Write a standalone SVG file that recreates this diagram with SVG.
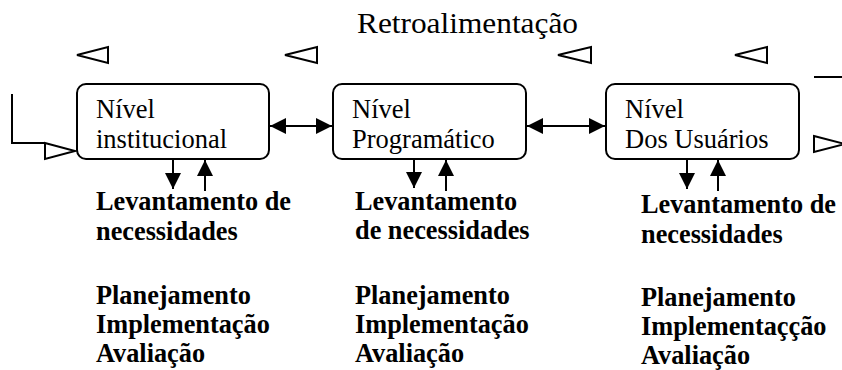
<svg xmlns="http://www.w3.org/2000/svg" width="842" height="370" viewBox="0 0 842 370">
<style>
.box{fill:#fff;stroke:#000;stroke-width:2}
.lbl{font-family:"Liberation Serif","Times New Roman",serif;font-size:26.5px;fill:#000}
.bold{font-family:"Liberation Serif","Times New Roman",serif;font-size:26.3px;font-weight:bold;fill:#000}
.title{font-family:"Liberation Serif","Times New Roman",serif;font-size:29px;fill:#000}
.ln{fill:none;stroke:#000;stroke-width:2}
.tri{fill:#fff;stroke:#000;stroke-width:2;stroke-linejoin:miter}
</style>
<defs>
<marker id="ah" markerUnits="userSpaceOnUse" markerWidth="16" markerHeight="16" viewBox="0 0 15 15" refX="15" refY="7.5" orient="auto-start-reverse">
<path d="M0,0 L15,7.5 L0,15 z" fill="#000"/>
</marker>
</defs>
<text class="title" x="357" y="33" textLength="221" lengthAdjust="spacingAndGlyphs">Retroalimentação</text>
<g id="feedback">
<polygon class="tri" points="77,55 108,47 108,63"/>
<polygon class="tri" points="285,55 317,47 317,63"/>
<polygon class="tri" points="558,55 591,47 591,63"/>
<polygon class="tri" points="735,55 767,47 767,63"/>
<polyline class="ln" points="12,94 12,143 45,143"/>
<polygon class="tri" points="45,143 75,151 45,159"/>
<line class="ln" x1="814" y1="77" x2="842" y2="77"/>
<polygon class="tri" points="814,136 845,144 814,152"/>
</g>
<g id="n1">
<rect class="box" x="77" y="84" width="192" height="75" rx="9"/>
<text class="lbl" x="96" y="118">Nível</text>
<text class="lbl" x="96" y="148">institucional</text>
</g>
<g id="n2">
<rect class="box" x="333" y="84" width="193" height="75" rx="9"/>
<text class="lbl" x="352" y="118">Nível</text>
<text class="lbl" x="352" y="148">Programático</text>
</g>
<g id="n3">
<rect class="box" x="606" y="84" width="193" height="75" rx="9"/>
<text class="lbl" x="625" y="118">Nível</text>
<text class="lbl" x="625" y="148">Dos Usuários</text>
</g>
<g id="connectors">
<line class="ln" x1="270" y1="126" x2="332" y2="126" marker-start="url(#ah)" marker-end="url(#ah)"/>
<line class="ln" x1="527" y1="126" x2="605" y2="126" marker-start="url(#ah)" marker-end="url(#ah)"/>
<line class="ln" x1="173" y1="159" x2="173" y2="189" marker-end="url(#ah)"/>
<line class="ln" x1="205" y1="191" x2="205" y2="160" marker-end="url(#ah)"/>
<line class="ln" x1="414" y1="159" x2="414" y2="188" marker-end="url(#ah)"/>
<line class="ln" x1="446" y1="191" x2="446" y2="160" marker-end="url(#ah)"/>
<line class="ln" x1="687" y1="159" x2="687" y2="189" marker-end="url(#ah)"/>
<line class="ln" x1="718" y1="191" x2="718" y2="160" marker-end="url(#ah)"/>
</g>
<g id="t1">
<text class="bold" x="96" y="210">Levantamento de</text>
<text class="bold" x="96" y="240">necessidades</text>
<text class="bold" x="96" y="304">Planejamento</text>
<text class="bold" x="96" y="333">Implementação</text>
<text class="bold" x="96" y="362">Avaliação</text>
</g>
<g id="t2">
<text class="bold" x="355" y="210">Levantamento</text>
<text class="bold" x="355" y="239">de necessidades</text>
<text class="bold" x="355" y="304">Planejamento</text>
<text class="bold" x="355" y="333">Implementação</text>
<text class="bold" x="355" y="362">Avaliação</text>
</g>
<g id="t3">
<text class="bold" x="641" y="213">Levantamento de</text>
<text class="bold" x="641" y="243">necessidades</text>
<text class="bold" x="641" y="306">Planejamento</text>
<text class="bold" x="641" y="335">Implementaçção</text>
<text class="bold" x="641" y="364">Avaliação</text>
</g>
</svg>
